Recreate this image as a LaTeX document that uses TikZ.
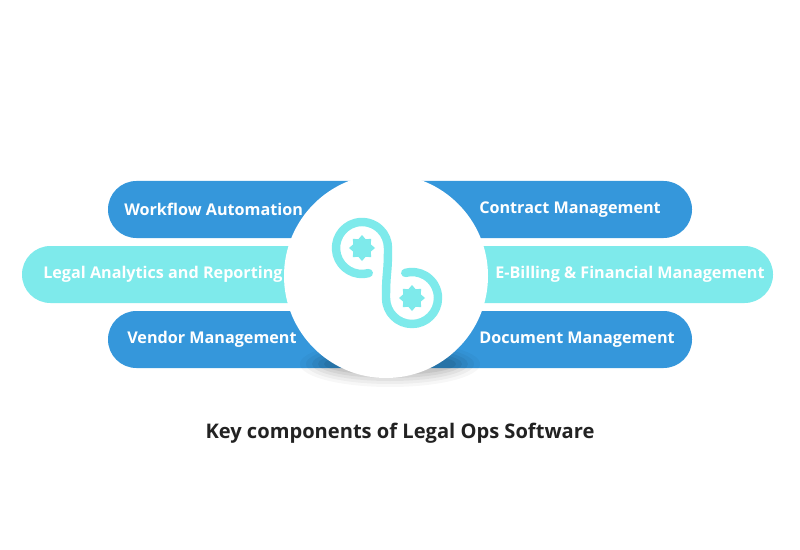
\documentclass[tikz,border=0pt]{standalone}
\usepackage{fontspec}
\setmainfont{Open Sans}
\usetikzlibrary{positioning,calc}
\definecolor{pillblue}{HTML}{3597DB}
\definecolor{pillcyan}{HTML}{7EEAEB}
\definecolor{titlegray}{HTML}{222222}
\tikzset{
  bar/.style={rounded corners=20.2pt},
  label/.style={text=white, inner sep=0pt, font=\bfseries\fontsize{11.5}{13}\selectfont},
  ring/.style={draw=pillcyan, line width=6pt, line cap=round},
}
\begin{document}
\begin{tikzpicture}[x=0.025cm,y=-0.025cm]
  \useasboundingbox (0,0) rectangle (800,550);

  % left and right bars
  \fill[pillblue, bar] (108,181) rectangle (400,238);
  \fill[pillblue, bar] (380,181) rectangle (692,238);
  \fill[pillcyan, bar] (22,246) rectangle (400,303);
  \fill[pillcyan, bar] (380,246) rectangle (773,303);
  \fill[pillblue, bar] (108,311) rectangle (400,368);
  \fill[pillblue, bar] (380,311) rectangle (692,368);

  % shadow of the disc
  \foreach \o/\s in {0.03/30, 0.04/24, 0.05/18, 0.06/12, 0.07/6}
    \fill[black, opacity=\o] (390,364) ellipse ({60+\s} and {\s/2+8});

  \node[circle, fill=white, minimum size=204*0.025cm, inner sep=0pt] (hub) at (386,276) {};

  \node[label, anchor=west] (workflow) at (124,209.5) {Workflow Automation};
  \node[label, anchor=west] (contract) at (479,209.5) {Contract Management};
  \node[label, anchor=west] (analytics) at (43,274.5) {Legal Analytics and Reporting};
  \node[label, anchor=west] (billing) at (495,274.5) {E-Billing \& Financial Management};
  \node[label, anchor=west] (vendor) at (127,339.5) {Vendor Management};
  \node[label, anchor=west] (document) at (479,339.5) {Document Management};

  % icon
  \begin{scope}[shift={(362,248)}, x=0.025cm, y=0.025cm]
    \draw[ring] (-75:26) arc (-75:-360:26)
      .. controls (26,-28) and (24,-22) .. (24,-50)
      arc (180:465:26);
    \foreach \cx/\cy in {0/0,50/-50}
      \fill[pillcyan] (\cx+13,\cy) \foreach \a in {22.5,45,...,337.5}{
        -- ($(\cx,\cy)+(\a:{mod(round(\a/22.5),2)==1 ? 9.5 : 13})$)} -- cycle;
  \end{scope}

  \node[text=titlegray, font=\bfseries\fontsize{14.3}{17}\selectfont] (title) at (400,433)
    {Key components of Legal Ops Software};
\end{tikzpicture}
\end{document}
